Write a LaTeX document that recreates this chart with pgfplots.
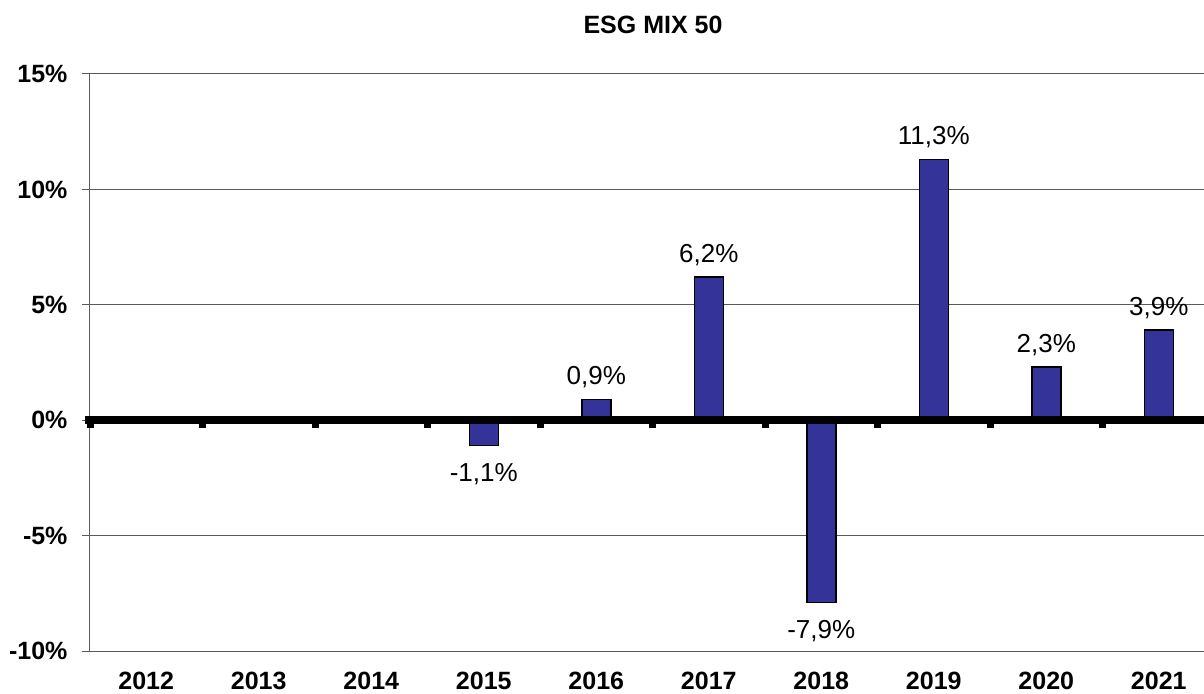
\documentclass[border=0pt]{standalone}
\usepackage{pgfplots}
\usepackage{pgfplotstable}
\pgfplotsset{compat=1.18}
\usepackage{fontspec}
\setmainfont{Liberation Sans}
\definecolor{barblue}{HTML}{333399}
\definecolor{gridgray}{HTML}{5A5A5A}
\pgfplotstableread{
x y label
4 0.9 0,9
5 6.2 6,2
7 11.3 11,3
8 2.3 2,3
9 3.9 3,9
}\posdata
\pgfplotstableread{
x y label
3 -1.1 -1,1
6 -7.9 -7,9
}\negdata
\begin{document}
\begin{tikzpicture}
\begin{axis}[
  at={(0pt,0pt)}, anchor=south west,
  scale only axis, width=1114pt, height=577pt,
  xmin=-0.5, xmax=9.402, ymin=-10, ymax=15,
  axis lines*=left,
  axis line style={gridgray, line width=1pt},
  ytick={-10,-5,0,5,10,15},
  yticklabels={-10\%,-5\%,0\%,5\%,10\%,15\%},
  ymajorgrids, grid style={gridgray, line width=1pt},
  xtick={0,...,9},
  xticklabels={2012,2013,2014,2015,2016,2017,2018,2019,2020,2021},
  xtick style={draw=none},
  ytick style={gridgray, line width=1pt},
  tick align=outside, major tick length=8pt,
  yticklabel style={font=\bfseries\fontsize{25}{30}\selectfont, xshift=-11pt},
  xticklabel style={font=\bfseries\fontsize{25}{30}\selectfont, yshift=-10pt},
  title={ESG MIX 50},
  title style={font=\bfseries\fontsize{25}{30}\selectfont, anchor=base, at={(0.5,1)}, yshift=34pt, xshift=6pt},
  clip=false,
]
\addplot[ybar, bar width=29pt, fill=barblue, draw=black, line width=1.5pt,
  point meta=explicit symbolic,
  nodes near coords={\pgfplotspointmeta\%},
  every node near coord/.append style={font=\fontsize{26}{30}\selectfont, black, anchor=south, inner sep=0pt, outer ysep=15pt, text depth=0pt},
] table[x=x, y=y, meta=label] {\posdata};
\addplot[ybar, bar width=29pt, fill=barblue, draw=black, line width=1.5pt,
  point meta=explicit symbolic,
  nodes near coords={\pgfplotspointmeta\%},
  every node near coord/.append style={font=\fontsize{26}{30}\selectfont, black, anchor=north, inner sep=0pt, outer ysep=18pt, text depth=0pt},
] table[x=x, y=y, meta=label] {\negdata};
\draw[line width=7.5pt, black] (axis cs:-0.54,0) -- (axis cs:9.402,0);
\addplot[only marks, mark=square*, mark size=3pt, black, mark options={yshift=-4pt}]
  coordinates {(-0.5,0) (0.5,0) (1.5,0) (2.5,0) (3.5,0) (4.5,0) (5.5,0) (6.5,0) (7.5,0) (8.5,0)};
\end{axis}
\pgfresetboundingbox
\useasboundingbox (-90pt,-42pt) rectangle (1114pt,651pt);
\end{tikzpicture}
\end{document}
